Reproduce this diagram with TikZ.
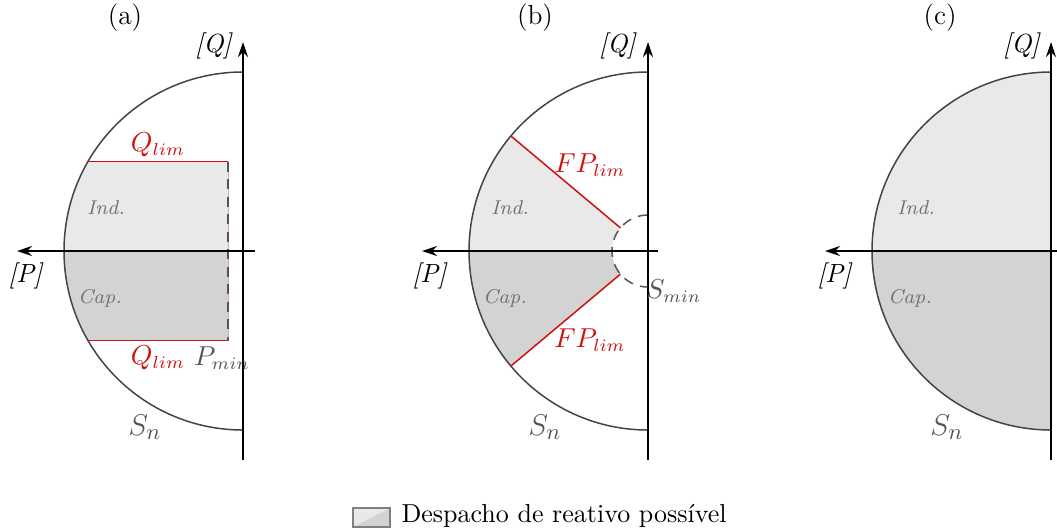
\documentclass[tikz,border=0pt]{standalone}
\usetikzlibrary{arrows.meta}
\definecolor{indfill}{HTML}{E9E9E9}
\definecolor{capfill}{HTML}{D3D3D3}
\definecolor{limred}{HTML}{CC1111}
\definecolor{circgray}{HTML}{444444}
\definecolor{labgray}{HTML}{555555}
\definecolor{regiongray}{HTML}{707070}
\begin{document}
\begin{tikzpicture}[x=0.4pt,y=0.4pt,
  axis/.style={line width=0.8pt,black,-{Stealth[length=6pt,width=4pt]}},
  rim/.style={line width=0.6pt,circgray},
  limline/.style={line width=0.6pt,limred},
  dashline/.style={line width=0.6pt,labgray,dash pattern=on 4pt off 3pt},
  lbl/.style={inner sep=0pt,font=\fontsize{10.5}{12}\selectfont},
  reglbl/.style={inner sep=0pt,regiongray,font=\footnotesize\itshape},
  redlbl/.style={inner sep=0pt,limred,font=\fontsize{10.5}{12}\selectfont},
  sn/.style={inner sep=0pt,labgray,font=\fontsize{13}{15}\selectfont},
  ttl/.style={inner sep=0pt,font=\fontsize{11}{13}\selectfont}]
\useasboundingbox (0,-529) rectangle (1057,0);

% ---------------- panel (a)
\begin{scope}[shift={(243,-251)}]
  \fill[indfill] (-15,0) -- (-15,89.5) -- (-155,89.5) arc (150:180:179) -- cycle;
  \fill[capfill] (-15,0) -- (-179,0) arc (180:210:179) -- (-15,-89.5) -- cycle;
  \draw[rim] (0,179) arc (90:270:179);
  \draw[limline] (-155,89.5) -- (-15,89.5);
  \draw[limline] (-155,-89.5) -- (-15,-89.5);
  \draw[line width=0.4pt,limred!40] (-15,89.5) -- (-15,-89.5);
  \draw[dashline] (-15,89.5) -- (-15,-89.5);
  \draw[axis] (12,0) -- (-226,0);
  \draw[axis] (0,-209) -- (0,209);
\end{scope}
\node[ttl] (ta) at (125,-18) {(a)};
\node[lbl] (qa) at (214,-46) {\textit{[Q]}};
\node[lbl] (pa) at (26,-276) {\textit{[P]}};
\node[redlbl] (qlt) at (158,-145) {$Q_{lim}$};
\node[redlbl] (qlb) at (158,-358) {$Q_{lim}$};
\node[lbl,labgray] (pmin) at (222,-358) {$P_{min}$};
\node[reglbl] (inda) at (106,-208) {Ind.};
\node[reglbl] (capa) at (100,-298) {Cap.};
\node[sn] (sna) at (145,-427) {$S_n$};

% ---------------- panel (b)
\begin{scope}[shift={(648,-251)}]
  \fill[indfill] (180:36) arc (180:140:36) -- (140:179) arc (140:180:179) -- cycle;
  \fill[capfill] (180:36) -- (180:179) arc (180:220:179) -- (220:36) arc (220:180:36) -- cycle;
  \draw[rim] (0,179) arc (90:270:179);
  \draw[limline] (140:36) -- (140:179);
  \draw[limline] (220:36) -- (220:179);
  \draw[dashline] (90:36) arc (90:270:36);
  \draw[axis] (10,0) -- (-226,0);
  \draw[axis] (0,-209) -- (0,209);
\end{scope}
\node[ttl] (tb) at (535,-18) {(b)};
\node[lbl] (qb) at (618,-46) {\textit{[Q]}};
\node[lbl] (pb) at (430,-276) {\textit{[P]}};
\node[redlbl] (fpt) at (590,-165) {$FP_{lim}$};
\node[redlbl] (fpb) at (590,-340) {$FP_{lim}$};
\node[lbl,labgray] (smin) at (674,-291) {$S_{min}$};
\node[reglbl] (indb) at (510,-208) {Ind.};
\node[reglbl] (capb) at (505,-298) {Cap.};
\node[sn] (snb) at (545,-427) {$S_n$};

% ---------------- panel (c)
\begin{scope}[shift={(1051,-251)}]
  \fill[indfill] (0,0) -- (0,179) arc (90:180:179) -- cycle;
  \fill[capfill] (0,0) -- (-179,0) arc (180:270:179) -- cycle;
  \draw[rim] (0,179) arc (90:270:179);
  \draw[axis] (8,0) -- (-226,0);
  \draw[axis] (0,-209) -- (0,209);
\end{scope}
\node[ttl] (tc) at (940,-18) {(c)};
\node[lbl] (qc) at (1022,-46) {\textit{[Q]}};
\node[lbl] (pc) at (835,-276) {\textit{[P]}};
\node[reglbl] (indc) at (916,-208) {Ind.};
\node[reglbl] (capc) at (910,-298) {Cap.};
\node[sn] (snc) at (947,-427) {$S_n$};

% ---------------- legend
\fill[indfill] (353,-508) -- (390,-508) -- (353,-527) -- cycle;
\fill[capfill] (390,-508) -- (390,-527) -- (353,-527) -- cycle;
\draw[line width=0.5pt,gray] (353,-508) rectangle (390,-527);
\node[lbl,anchor=west,font=\fontsize{10.4}{12}\selectfont] (leg) at (401,-516) {Despacho de reativo possível};
\end{tikzpicture}
\end{document}
